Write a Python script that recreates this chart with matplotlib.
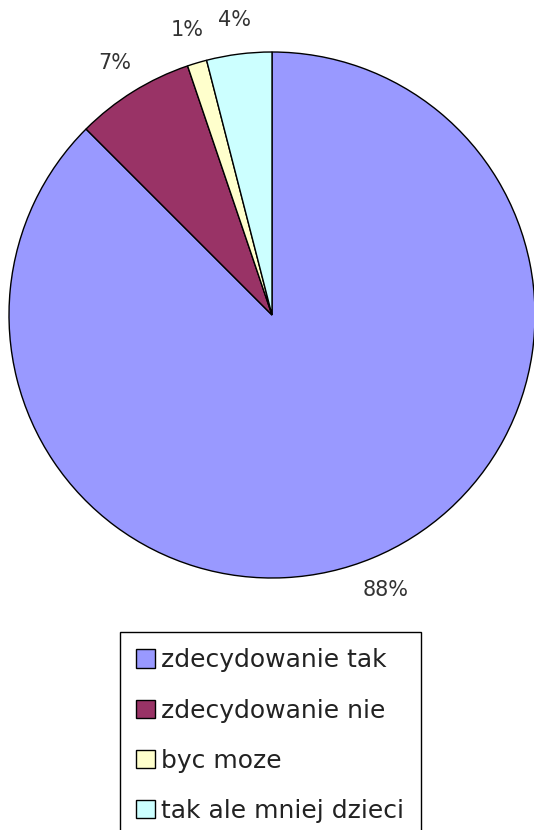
import matplotlib
matplotlib.use("Agg")
import matplotlib.pyplot as plt

# survey answers, clockwise from 12 o'clock
labels = ["zdecydowanie tak", "zdecydowanie nie", "byc moze", "tak ale mniej dzieci"]
shares = [87.5, 7.3, 1.2, 4.0]
colors = ["#9999FF", "#993366", "#FFFFCC", "#CCFFFF"]

W, H = 534, 830
fig = plt.figure(figsize=(W / 100, H / 100), dpi=100)
fig.patch.set_facecolor("white")

ax = fig.add_axes([0, 0, 1, 1])

wedges, texts, autotexts = ax.pie(
    shares,
    colors=colors,
    startangle=90,
    counterclock=False,
    center=(272, H - 315),
    radius=263,
    autopct=lambda p: f"{p:.0f}%",
    pctdistance=1.13,
    wedgeprops={"edgecolor": "black", "linewidth": 1.0},
    textprops={"fontsize": 15, "color": "#333333"},
    frame=True,
)
ax.set_xlim(0, W)
ax.set_ylim(0, H)
ax.set_aspect("equal")
ax.axis("off")

leg = fig.legend(
    wedges, labels,
    loc="upper left",
    bbox_to_anchor=(120 / W, (H - 632) / H),
    frameon=True,
    fancybox=False,
    framealpha=1,
    edgecolor="black",
    fontsize=18,
    handlelength=0.75,
    handleheight=0.75,
    handletextpad=0.25,
    labelspacing=1.05,
    borderpad=0.65,
    borderaxespad=0,
)
leg.get_frame().set_linewidth(1.0)
for t in leg.get_texts():
    t.set_color("#222222")

fig.savefig("out.png", dpi=100)
